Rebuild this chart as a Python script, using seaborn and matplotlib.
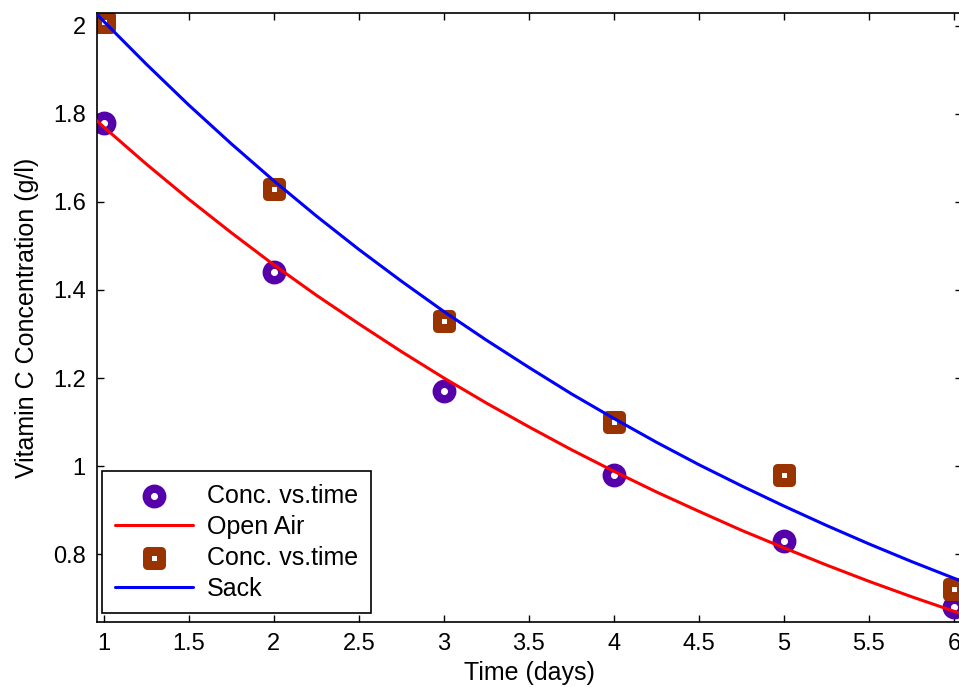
import matplotlib
matplotlib.use("Agg")
import matplotlib.pyplot as plt
import seaborn as sns
import pandas as pd

# measured concentrations (g/l)
days = [1, 2, 3, 4, 5, 6]
open_air_pts = [1.78, 1.44, 1.17, 0.98, 0.83, 0.68]
sack_pts = [2.01, 1.63, 1.33, 1.10, 0.98, 0.72]

# fitted curves
fit_days = [0.90, 1.00, 1.25, 1.50, 1.75, 2.00, 2.25, 2.50, 2.75, 3.00, 3.25, 3.50,
            3.75, 4.00, 4.25, 4.50, 4.75, 5.00, 5.25, 5.50, 5.75, 6.00, 6.10]
open_air_fit = [1.805, 1.770, 1.686, 1.606, 1.530, 1.457, 1.388, 1.323, 1.260, 1.200,
                1.143, 1.089, 1.037, 0.988, 0.941, 0.897, 0.854, 0.814, 0.775, 0.738,
                0.703, 0.670, 0.657]
sack_fit = [2.051, 2.010, 1.913, 1.820, 1.732, 1.648, 1.568, 1.492, 1.420, 1.351,
            1.286, 1.224, 1.164, 1.108, 1.054, 1.003, 0.955, 0.909, 0.865, 0.823,
            0.783, 0.745, 0.730]

sns.set_style("ticks")
plt.rcParams['font.family'] = ['Liberation Sans', 'DejaVu Sans']
plt.rcParams['text.color'] = 'black'
plt.rcParams['axes.labelcolor'] = 'black'

pts = pd.DataFrame({'t': days, 'open': open_air_pts, 'sack': sack_pts})
fit = pd.DataFrame({'t': fit_days, 'open': open_air_fit, 'sack': sack_fit})

fig = plt.figure(figsize=(9.59, 6.87), dpi=100)
ax = fig.add_axes([0.1011, 0.0946, 0.9025, 0.8865])

sns.scatterplot(data=pts, x='t', y='open', ax=ax, marker='o', s=125, color='white',
                edgecolor='#5500aa', linewidth=6.0, label='Conc. vs.time', zorder=2)
sns.lineplot(data=fit, x='t', y='open', ax=ax, color='#ff0000', linewidth=2.2,
             label='Open Air', zorder=3)
sns.scatterplot(data=pts, x='t', y='sack', ax=ax, marker='s', s=110, color='white',
                edgecolor='#993300', linewidth=6.5, label='Conc. vs.time', zorder=2)
sns.lineplot(data=fit, x='t', y='sack', ax=ax, color='#0000ff', linewidth=2.2,
             label='Sack', zorder=3)

ax.set_xlim(0.959, 6.05)
ax.set_ylim(0.6455, 2.0295)
ax.set_xticks([1, 1.5, 2, 2.5, 3, 3.5, 4, 4.5, 5, 5.5, 6])
ax.set_xticklabels(['1', '1.5', '2', '2.5', '3', '3.5', '4', '4.5', '5', '5.5', '6'])
ax.set_yticks([0.8, 1.0, 1.2, 1.4, 1.6, 1.8, 2.0])
ax.set_yticklabels(['0.8', '1', '1.2', '1.4', '1.6', '1.8', '2'])
ax.tick_params(direction='in', top=True, right=True, length=5, width=1,
               labelsize=17, pad=8, colors='black')
for s in ax.spines.values():
    s.set_visible(True)
    s.set_color('black')
    s.set_linewidth(1.2)

ax.set_xlabel('Time (days)', fontsize=18, labelpad=4)
ax.set_ylabel('Vitamin C Concentration (g/l)', fontsize=18, labelpad=10)

leg = ax.legend(loc='lower left', bbox_to_anchor=(0.006, 0.014), fontsize=18,
                frameon=True, fancybox=False, edgecolor='black', framealpha=1,
                handlelength=3.15, handletextpad=0.55, labelspacing=0.28,
                borderpad=0.5, borderaxespad=0)
leg.get_frame().set_linewidth(1.2)

fig.savefig('out.png', dpi=100)
